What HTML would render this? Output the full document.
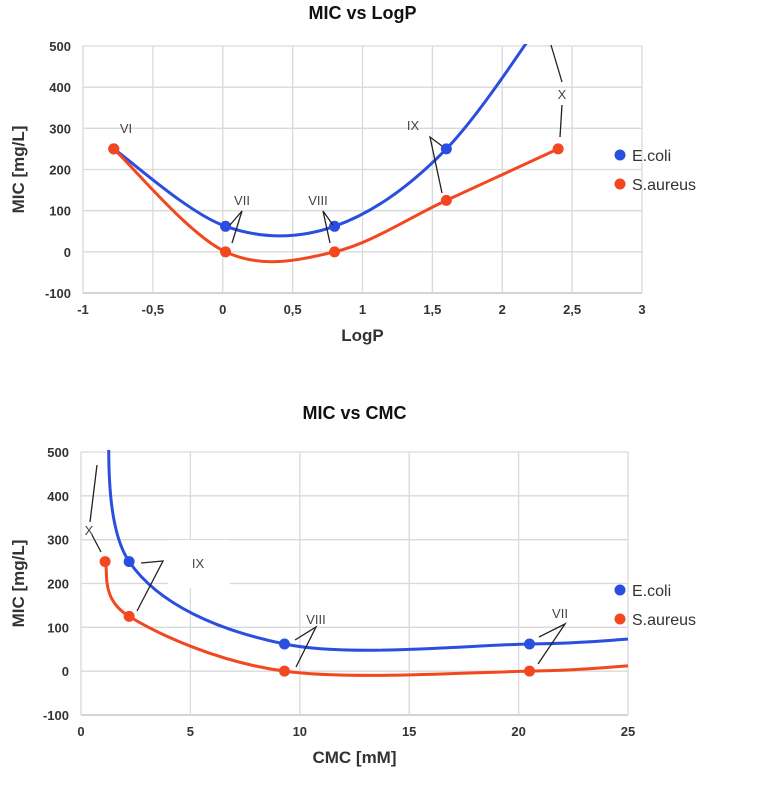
<!DOCTYPE html>
<html><head><meta charset="utf-8"><style>
body{margin:0;background:#fff;font-family:"Liberation Sans",sans-serif}
svg{display:block}
.tk{font-size:13px;font-weight:bold;fill:#333}
.ttl{font-size:18px;font-weight:bold;fill:#111}
.ax{font-size:17px;font-weight:bold;fill:#333}
.ann{font-size:13px;fill:#444}
.leg{font-size:16px;fill:#333}
</style></head><body>
<svg id="c" width="776" height="790"></svg>
<script>
// Chart 1: MIC vs LogP
const logpEcoliX=[-0.78,0.02,0.8,1.6,2.4];
const logpEcoliY=[250,62,62,250,620];
const logpEcoliMarked=[true,true,true,true,false];
const logpSaurX=[-0.78,0.02,0.8,1.6,2.4];
const logpSaurY=[250,0,0,125,250];
const logpXTicks=[-1,-0.5,0,0.5,1,1.5,2,2.5,3];
const logpXLabels=["-1","-0,5","0","0,5","1","1,5","2","2,5","3"];
const yTicks=[-100,0,100,200,300,400,500];
// Chart 2: MIC vs CMC
const cmcEcoliX=[1.25,2.2,9.3,20.5,25];
const cmcEcoliY=[650,250,62,62,73];
const cmcEcoliMarked=[false,true,true,true,false];
const cmcSaurX=[1.1,2.2,9.3,20.5,25];
const cmcSaurY=[250,125,0,0,12];
const cmcSaurMarked=[true,true,true,true,false];
const cmcXTicks=[0,5,10,15,20,25];

const NS="http://www.w3.org/2000/svg";
const svg=document.getElementById('c');
function mk(t,a,p){const e=document.createElementNS(NS,t);for(const k in a)e.setAttribute(k,a[k]);(p||svg).appendChild(e);return e;}
function txt(x,y,s,cls,anchor,p){const e=mk('text',{x:x,y:y,class:cls,'text-anchor':anchor||'middle'},p);e.textContent=s;return e;}
function smooth(pts){let d='M'+pts[0][0]+','+pts[0][1];
 for(let i=0;i<pts.length-1;i++){const p0=pts[Math.max(0,i-1)],p1=pts[i],p2=pts[i+1],p3=pts[Math.min(pts.length-1,i+2)];
 const t=6;const c1=[p1[0]+(p2[0]-p0[0])/t,p1[1]+(p2[1]-p0[1])/t],c2=[p2[0]-(p3[0]-p1[0])/t,p2[1]-(p3[1]-p1[1])/t];
 d+=' C'+c1+' '+c2+' '+p2;}return d;}

function chart(o){
 const sx=v=>o.x0+(v-o.xmin)/(o.xmax-o.xmin)*(o.x1-o.x0);
 const sy=v=>o.y1-(v-(-100))/600*(o.y1-o.y0);
 const g=mk('g',{});
 
 
 const t=txt((o.x0+o.x1)/2,o.titleY,o.title,'ttl','middle',g);
 
 yTicks.forEach(v=>{mk('line',{x1:o.x0,x2:o.x1,y1:sy(v),y2:sy(v),stroke:v==-100?'#bbb':'#d9d9d9','stroke-width':1.3},g);
  const l=txt(o.x0-12,sy(v)+5,String(v),'tk','end',g);});
 o.xt.forEach((v,i)=>{mk('line',{x1:sx(v),x2:sx(v),y1:o.y0,y2:o.y1,stroke:'#d9d9d9','stroke-width':1.3},g);
  const l=txt(sx(v),o.y1+21,o.xl[i],'tk','middle',g);});
 if(o.white)mk('rect',o.white,g);
 const xt=txt((o.x0+o.x1)/2,o.y1+48,o.xtitle,'ax','middle',g);
 const yt=txt(0,0,'MIC [mg/L]','ax','middle',g);yt.setAttribute('transform','translate(24,'+(o.y0+o.y1)/2+') rotate(-90)');
 
 const cid='clip'+o.name;const cp=mk('clipPath',{id:cid},g);mk('rect',{x:o.x0,y:o.y0-2,width:o.x1-o.x0,height:o.y1-o.y0+4},cp);
 o.series.forEach(s=>{const pts=s.x.map((v,i)=>[sx(v),sy(s.y[i])]);
  const p=mk('path',{d:smooth(pts),fill:'none',stroke:s.c,'stroke-width':3,'clip-path':'url(#'+cid+')'},g);
  
  pts.forEach((q,i)=>{if(s.m[i]){const c=mk('circle',{cx:q[0],cy:q[1],r:5.5,fill:s.c},g);
   }});});
 o.ann.forEach(a=>{const l=txt(a[0],a[1],a[2],'ann','middle',g);});
 o.lines.forEach(a=>mk('polyline',{points:a,fill:'none',stroke:'#222','stroke-width':1.3},g));
 o.series.forEach((s,i)=>{const y=o.legY+i*29;mk('circle',{cx:620,cy:y,r:5.5,fill:s.c},g);
  const l=txt(632,y+6,s.label,'leg','start',g);});
}
const B='#2a4fe0',R='#f2471f';
chart({name:'logp-chart',title:'MIC vs LogP',titleY:19,x0:83,x1:642,y0:46,y1:293,xmin:-1,xmax:3,xt:logpXTicks,xl:logpXLabels,xtitle:'LogP',legY:155,
 series:[{n:'ecoli',label:'E.coli',c:B,x:logpEcoliX,y:logpEcoliY,m:logpEcoliMarked},{n:'saureus',label:'S.aureus',c:R,x:logpSaurX,y:logpSaurY,m:[true,true,true,true,true]}],
 ann:[[126,133,'VI'],[242,205,'VII'],[318,205,'VIII'],[413,130,'IX'],[562,99,'X']],
 lines:['230,225 242,211 232,243','333,225 323,211 330,243','442,146 430,137 442,193','551,45 562,82','562,105 560,137']});
chart({name:'cmc-chart',title:'MIC vs CMC',titleY:419,x0:81,x1:628,y0:452,y1:715,xmin:0,xmax:25,xt:cmcXTicks,xl:cmcXTicks.map(String),xtitle:'CMC [mM]',legY:590,
 white:{x:168,y:540,width:62,height:48,fill:'#fff'},
 series:[{n:'ecoli',label:'E.coli',c:B,x:cmcEcoliX,y:cmcEcoliY,m:cmcEcoliMarked},{n:'saureus',label:'S.aureus',c:R,x:cmcSaurX,y:cmcSaurY,m:cmcSaurMarked}],
 ann:[[89,535,'X'],[198,568,'IX'],[316,624,'VIII'],[560,618,'VII']],
 lines:['97,465 90,522','92,535 101,552','141,563 163,561 137,611','295,640 316,627 296,667','539,637 565,624 538,664']});
</script>
</body></html>
